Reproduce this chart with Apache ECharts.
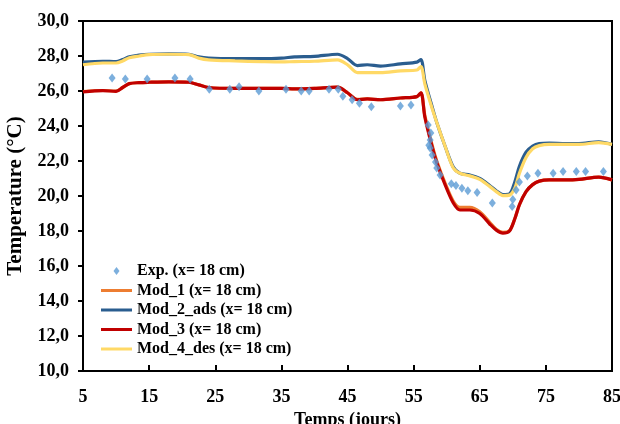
<!DOCTYPE html>
<html>
<head>
<meta charset="utf-8">
<script src="https://cdn.jsdelivr.net/npm/echarts@6/dist/echarts.min.js"></script>
<style>
  html, body { margin: 0; padding: 0; background: #fff; }
  #chart { width: 620px; height: 424px; }
</style>
</head>
<body>
<div id="chart"></div>
<script>
// days on which the model curves are sampled
const modDays = [5, 8, 10, 11, 12, 13.5, 15, 18, 21, 22.5, 24, 28, 32, 35, 37, 40, 43.5, 45, 46.5, 48, 50, 53, 55.5, 56.1,
  56.7, 57.8, 58.5, 59.8, 61, 62, 63.5, 65, 66.5, 67.5, 68.5, 69.5, 70.3, 71, 72, 73, 74, 75.5, 78, 80, 83, 85];

const mod1 = [25.97, 26.03, 26.0, 26.2, 26.42, 26.48, 26.5, 26.52, 26.5, 26.36, 26.2, 26.15, 26.15, 26.15, 26.12, 26.15, 26.22, 25.9, 25.52, 25.55, 25.5, 25.6, 25.68, 25.9,
  24.6, 22.9, 22.0, 20.7, 19.7, 19.35, 19.35, 19.1, 18.5, 18.1, 17.92, 18.02, 18.7, 19.5, 20.25, 20.65, 20.85, 20.92, 20.92, 20.95, 21.08, 20.92];
const mod2 = [27.65, 27.7, 27.68, 27.8, 27.95, 28.05, 28.1, 28.12, 28.1, 27.95, 27.88, 27.85, 27.85, 27.88, 27.95, 27.98, 28.1, 27.85, 27.45, 27.5, 27.42, 27.55, 27.65, 27.8,
  26.6, 25.1, 24.2, 22.8, 21.65, 21.3, 21.2, 21.0, 20.6, 20.3, 20.08, 20.12, 20.8, 21.7, 22.5, 22.85, 23.0, 23.03, 23.0, 23.0, 23.1, 22.95];
const mod3 = [25.95, 26.02, 25.98, 26.2, 26.42, 26.48, 26.5, 26.52, 26.5, 26.35, 26.2, 26.15, 26.15, 26.15, 26.12, 26.15, 26.22, 25.9, 25.5, 25.55, 25.5, 25.6, 25.68, 25.9,
  24.5, 22.8, 21.9, 20.6, 19.6, 19.2, 19.2, 19.0, 18.4, 18.05, 17.88, 18.0, 18.7, 19.5, 20.25, 20.65, 20.85, 20.92, 20.92, 20.95, 21.08, 20.92];
const mod4 = [27.5, 27.6, 27.6, 27.72, 27.9, 28.0, 28.08, 28.1, 28.08, 27.88, 27.78, 27.72, 27.68, 27.66, 27.68, 27.7, 27.78, 27.5, 27.05, 27.05, 27.05, 27.15, 27.2, 27.4,
  26.4, 25.0, 24.2, 22.8, 21.6, 21.3, 21.15, 20.95, 20.55, 20.25, 20.02, 20.05, 20.45, 21.3, 22.2, 22.7, 22.88, 22.95, 22.95, 22.95, 23.05, 22.95];

// measured points
const expDays = [9.4, 11.4, 14.7, 18.9, 21.2, 24.1, 27.2, 28.6, 31.6, 35.7, 38, 39.2, 42.2, 43.6, 44.3, 45.7, 46.8, 48.6, 53, 54.6,
  57.2, 57.6, 57.5, 57.3, 57.5, 57.8, 58.3, 58.5, 59, 60.7, 61.4, 62.3, 63.2, 64.6, 66.9, 69.9, 70, 70.5, 71, 72.2, 73.8, 76.1, 77.6, 79.6, 81, 83.7];
const expVals = [26.74, 26.69, 26.69, 26.74, 26.69, 26.1, 26.1, 26.24, 26.0, 26.1, 26.0, 26.0, 26.1, 26.1, 25.7, 25.5, 25.3, 25.1, 25.14, 25.2,
  24.06, 23.6, 23.2, 22.9, 22.74, 22.34, 21.94, 21.6, 21.2, 20.7, 20.6, 20.45, 20.3, 20.2, 19.6, 19.4, 19.8, 20.34, 20.8, 21.14, 21.3, 21.3, 21.4, 21.4, 21.4, 21.4];

const names = ['Exp. (x= 18 cm)', 'Mod_1 (x= 18 cm)', 'Mod_2_ads (x= 18 cm)', 'Mod_3 (x= 18 cm)', 'Mod_4_des (x= 18 cm)'];
const colors = ['#5B9BD5', '#ED7D31', '#2A5D8F', '#C00000', '#FFD966'];

const font = '"Liberation Serif", "Times New Roman", serif';
const zip = (xs, ys) => xs.map((x, i) => [x, ys[i]]);
const lineIcon = 'path://M0,0L31,0L31,3L0,3Z';
const diamondIcon = 'path://M3,0L6,4L3,8L0,4Z';

function modLine(name, color, values, z) {
  return {
    type: 'line',
    name,
    data: zip(modDays, values),
    smooth: 0.3,
    symbol: 'none',
    z,
    lineStyle: { color, width: 3.2 },
    itemStyle: { color }
  };
}

const chart = echarts.init(document.getElementById('chart'));
chart.setOption({
  animation: false,
  grid: {
    left: 83, right: 8, top: 21, bottom: 53,
    outerBoundsMode: 'none',
    show: true, borderColor: '#000', borderWidth: 2, backgroundColor: 'transparent'
  },
  legend: {
    orient: 'vertical',
    left: 101,
    top: 263,
    padding: 0,
    itemWidth: 31,
    itemHeight: 8,
    itemGap: 3.5,
    symbolKeepAspect: true,
    textStyle: { fontFamily: font, fontWeight: 'bold', fontSize: 16, color: '#000' },
    data: names.map((n, i) => ({ name: n, icon: i === 0 ? diamondIcon : lineIcon }))
  },
  xAxis: {
    type: 'value',
    min: 5,
    max: 85,
    interval: 10,
    name: 'Temps (jours)',
    nameLocation: 'middle',
    nameGap: 35,
    nameTextStyle: { fontFamily: font, fontWeight: 'bold', fontSize: 18, color: '#000' },
    axisLine: { show: true, lineStyle: { color: '#000', width: 2 } },
    axisTick: { show: true, inside: true, length: 6, lineStyle: { color: '#000', width: 2 } },
    axisLabel: { fontFamily: font, fontWeight: 'bold', fontSize: 18, color: '#000', margin: 17 },
    splitLine: { show: false }
  },
  yAxis: {
    type: 'value',
    min: 10,
    max: 30,
    interval: 2,
    name: 'Temperature (°C)',
    nameLocation: 'middle',
    nameGap: 57,
    nameTextStyle: { fontFamily: font, fontWeight: 'bold', fontSize: 21, color: '#000' },
    axisLine: { show: true, lineStyle: { color: '#000', width: 2 } },
    axisTick: { show: true, length: 5, lineStyle: { color: '#000', width: 2 } },
    axisLabel: {
      fontFamily: font, fontWeight: 'bold', fontSize: 18, color: '#000', margin: 14,
      formatter: v => v.toFixed(1).replace('.', ',')
    },
    splitLine: { show: false }
  },
  series: [
    {
      type: 'scatter',
      name: names[0],
      data: zip(expDays, expVals),
      symbol: 'diamond',
      symbolSize: [7, 9],
      z: 10,
      itemStyle: { color: colors[0] }
    },
    modLine(names[1], colors[1], mod1, 2),
    modLine(names[2], colors[2], mod2, 3),
    modLine(names[3], colors[3], mod3, 4),
    modLine(names[4], colors[4], mod4, 5)
  ]
});
</script>
</body>
</html>
